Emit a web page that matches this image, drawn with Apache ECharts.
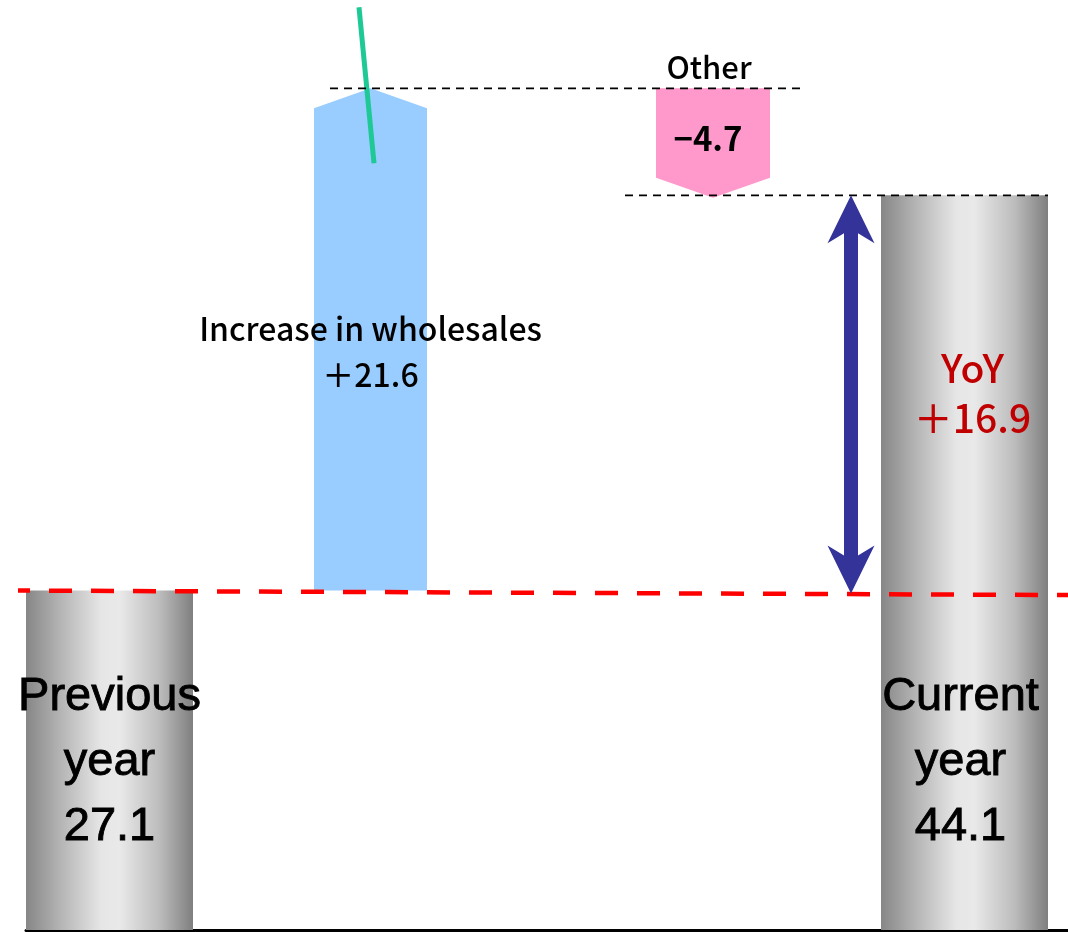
<!DOCTYPE html>
<html><head><meta charset="utf-8">
<script src="https://cdn.jsdelivr.net/npm/echarts@6/dist/echarts.min.js"></script>
<style>html,body{margin:0;padding:0;background:#fff}#c{width:1068px;height:932px}</style>
</head><body><div id="c"></div>
<script>
// ---- data ----
const categories = ['Previous year', 'Increase in wholesales', 'Other', 'Current year'];
const values = [27.1, 21.6, -4.7, 44.1];
const kinds = ['total', 'delta', 'delta', 'total'];
const barLabels = ['Previous\nyear\n27.1', 'Increase in wholesales\n＋21.6', '−4.7', 'Current\nyear\n44.1'];
const topLabels = ['', '', 'Other', ''];
const yoyLabel = 'YoY\n＋16.9';
const Y_MIN = 12.5, Y_MAX = 52.5;

// ---- layout (styling only) ----
const BAR_DX = [-46.75, -46.25, 35.75, 26.75];
const BAR_W = [167, 113, 114, 167];
const JP = '"Noto Sans CJK JP", "Noto Sans", sans-serif';
const LAT = '"Liberation Sans", Arial, sans-serif';

// waterfall build
let run = 0;
const bars = values.map((v, i) => {
  if (kinds[i] === 'total') { run = v; return [i, Y_MIN, v]; }
  const s = run; run = +(run + v).toFixed(2); return [i, s, run];
});

function grayGrad() {
  return new echarts.graphic.LinearGradient(0, 0, 1, 0, [
    {offset: 0, color: '#868686'}, {offset: 0.2, color: '#b3b3b3'},
    {offset: 0.45, color: '#e6e6e6'}, {offset: 0.56, color: '#e9e9e9'},
    {offset: 0.8, color: '#bcbcbc'}, {offset: 1, color: '#7f7f7f'}]);
}

function barX(api, i) {
  const c = api.coord([i, Y_MIN])[0] + BAR_DX[i];
  return [c - BAR_W[i] / 2, c, c + BAR_W[i] / 2];
}

function renderBar(params, api) {
  const i = api.value(0), s = api.value(1), e = api.value(2);
  const ys = api.coord([i, s])[1], ye = api.coord([i, e])[1];
  const [x0, cx, x1] = barX(api, i);
  const children = [];
  const prevY = api.coord([0, values[0]])[1];
  const baseY = api.coord([0, Y_MIN])[1];
  if (kinds[i] === 'total') {
    children.push({type: 'rect', shape: {x: x0, y: ye, width: x1 - x0, height: ys - ye}, style: {fill: grayGrad()}});
    children.push({type: 'text', x: cx + (i === 0 ? 0 : -4), y: (prevY + baseY) / 2 + 2,
      style: {text: barLabels[i], font: 'normal 47px ' + LAT, fill: '#000', stroke: '#000', lineWidth: 0.9,
        align: 'center', verticalAlign: 'middle', lineHeight: 65}});
  } else if (e > s) {
    children.push({type: 'polygon', shape: {points: [[x0, ys], [x0, ye + 20], [cx, ye], [x1, ye + 20], [x1, ys]]}, style: {fill: '#99ccff'}});
    children.push({type: 'text', x: cx, y: (ys + ye) / 2 + 12, z2: 5,
      style: {text: barLabels[i], font: '500 32px ' + JP, fill: '#000', align: 'center', verticalAlign: 'middle', lineHeight: 46}});
    children.push({type: 'line', shape: {x1: cx - 11.5, y1: ye - 81, x2: cx + 3.5, y2: ye + 75}, style: {stroke: '#1ec996', lineWidth: 5}, z2: 10});
  } else {
    children.push({type: 'polygon', shape: {points: [[x0, ys], [x1, ys], [x1, ye - 20], [cx, ye], [x0, ye - 20]]}, style: {fill: '#ff99cc'}});
    children.push({type: 'text', x: cx - 5, y: ys + 50,
      style: {text: barLabels[i], font: 'bold 33px ' + JP, fill: '#000', align: 'center', verticalAlign: 'middle'}});
    children.push({type: 'text', x: cx - 4, y: ys - 21,
      style: {text: topLabels[i], font: '500 31px ' + JP, fill: '#000', align: 'center', verticalAlign: 'middle'}});
  }
  return {type: 'group', children};
}

function renderGuides(params, api) {
  const prevY = api.coord([0, values[0]])[1];
  const peakY = api.coord([1, bars[1][2]])[1];
  const curY = api.coord([3, values[3]])[1];
  const b1 = barX(api, 1), b2 = barX(api, 2), b3 = barX(api, 3);
  const W = api.getWidth();
  const ax = b3[0] - 30;
  const yT = curY, yB = prevY + 3;
  const arrow = [[ax, yT], [ax + 23.5, yT + 48], [ax + 7, yT + 38], [ax + 7, yB - 38], [ax + 23.5, yB - 48], [ax, yB],
    [ax - 23.5, yB - 48], [ax - 7, yB - 38], [ax - 7, yT + 38], [ax - 23.5, yT + 48]];
  return {type: 'group', children: [
    {type: 'line', shape: {x1: b1[0] + 16, y1: peakY, x2: b2[2] + 35, y2: peakY}, style: {stroke: '#000', lineWidth: 1.8, lineDash: [8, 6]}},
    {type: 'line', shape: {x1: b2[0] - 31, y1: curY, x2: b3[2], y2: curY}, style: {stroke: '#000', lineWidth: 1.8, lineDash: [8, 6]}},
    {type: 'line', shape: {x1: 18, y1: prevY, x2: W, y2: prevY + 4.5}, style: {stroke: '#ff0000', lineWidth: 4.5, lineDash: [23, 19], lineDashOffset: 11}},
    {type: 'polygon', shape: {points: arrow}, style: {fill: '#333399'}},
    {type: 'text', x: b3[1] + 8, y: (curY + prevY) / 2, style: {text: yoyLabel, font: '500 39px ' + JP, fill: '#c00000', align: 'center', verticalAlign: 'middle', lineHeight: 50}}
  ]};
}

const chart = echarts.init(document.getElementById('c'), null, {renderer: 'canvas'});
chart.setOption({
  animation: false,
  backgroundColor: '#fff',
  grid: {left: 26, right: 0, top: 0, bottom: 2},
  xAxis: {type: 'category', data: categories, boundaryGap: true,
    axisLine: {show: true, lineStyle: {color: '#000', width: 3}}, axisTick: {show: false}, axisLabel: {show: false}, splitLine: {show: false}},
  yAxis: {type: 'value', min: Y_MIN, max: Y_MAX, show: false, splitLine: {show: false}},
  series: [
    {type: 'custom', name: 'bars', renderItem: renderBar, data: bars, clip: false, z: 2},
    {type: 'custom', name: 'guides', renderItem: renderGuides, data: [[0]], clip: false, z: 3, silent: true}
  ]
});
</script></body></html>
